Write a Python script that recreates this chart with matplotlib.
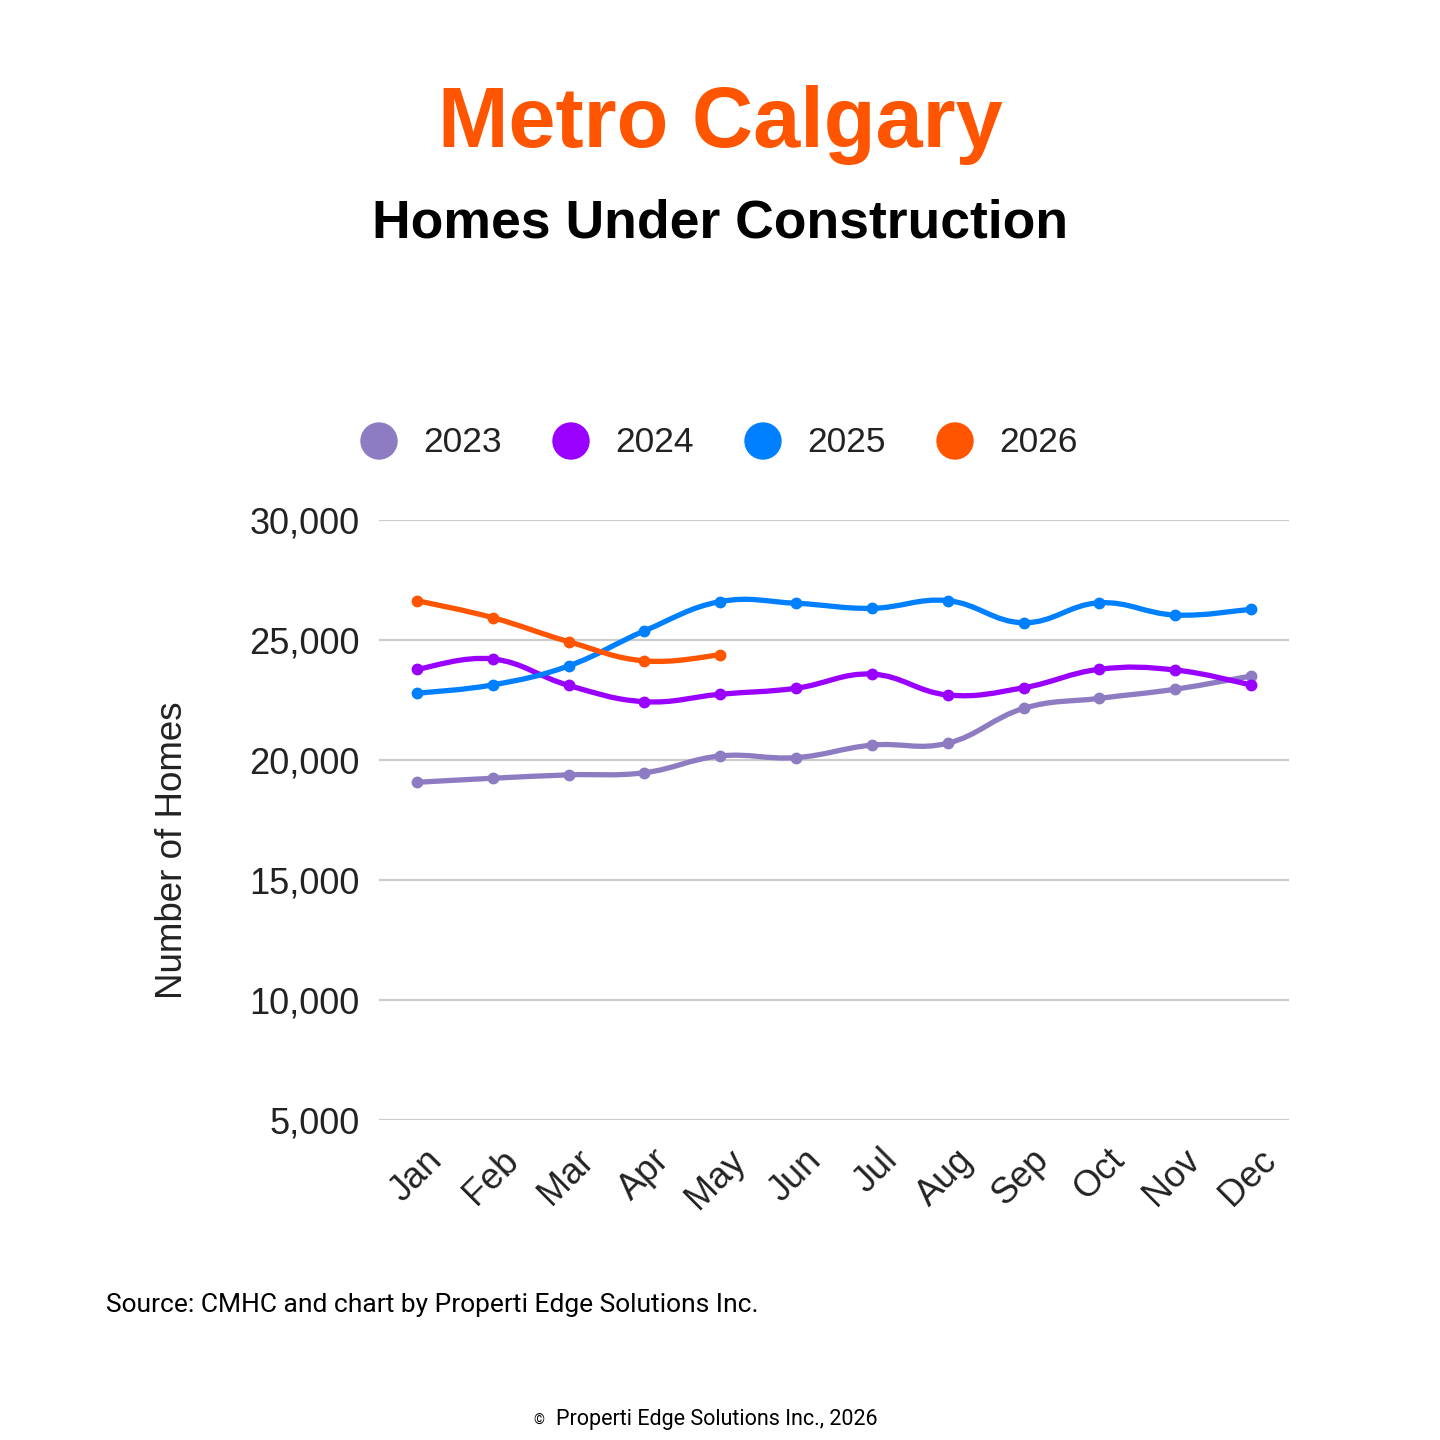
import numpy as np
import matplotlib
matplotlib.use("Agg")
import matplotlib.pyplot as plt
from matplotlib.path import Path
from matplotlib.patches import PathPatch
from matplotlib.ticker import FuncFormatter

# Dados
meses = ["Jan", "Feb", "Mar", "Apr", "May", "Jun",
         "Jul", "Aug", "Sep", "Oct", "Nov", "Dec"]
anos = ["2023", "2024", "2025", "2026"]
v2023 = [19070, 19240, 19380, 19470, 20170, 20100, 20620, 20700, 22150, 22570, 22950, 23500]
v2024 = [23780, 24210, 23110, 22430, 22740, 22990, 23580, 22710, 23010, 23780, 23750, 23130]
v2025 = [22780, 23130, 23920, 25380, 26600, 26530, 26320, 26640, 25720, 26550, 26040, 26280]
v2026 = [26640, 25930, 24930, 24130, 24380]
yticks = [5000, 10000, 15000, 20000, 25000, 30000]

cores = ["#8e7cc3", "#9900ff", "#0080ff", "#ff5500"]
series = [v2023, v2024, v2025, v2026]


# Curva suave (bezier tipo Catmull-Rom) passando pelos pontos
def caminho_suave(xs, ys, k=0.2):
    pts = np.column_stack([xs, ys]).astype(float)
    n = len(pts)
    verts = [pts[0]]
    codes = [Path.MOVETO]
    for i in range(n - 1):
        p0 = pts[max(i - 1, 0)]
        p1 = pts[i]
        p2 = pts[i + 1]
        p3 = pts[min(i + 2, n - 1)]
        c1 = p1 + (p2 - p0) * k
        c2 = p2 - (p3 - p1) * k
        verts += [c1, c2, p2]
        codes += [Path.CURVE4] * 3
    return Path(verts, codes)


fig = plt.figure(figsize=(14.4, 14.4), dpi=100)
ax = fig.add_axes([379 / 1440, 1 - 1120 / 1440, 910 / 1440, 600 / 1440])

for ano, vals, cor in zip(anos, series, cores):
    x = np.arange(len(vals))
    ax.add_patch(PathPatch(caminho_suave(x, vals), facecolor="none", edgecolor=cor,
                           lw=3.8, capstyle="round", joinstyle="round", zorder=3))
    ax.plot(x, vals, "o", color=cor, ms=7.5, zorder=4)

ax.set_xlim(-0.5, 11.5)
ax.set_ylim(5000, 30000)
ax.set_yticks(yticks)
ax.yaxis.set_major_formatter(FuncFormatter(lambda v, p: f"{int(v):,}"))
ax.set_xticks(range(len(meses)))
for s in ax.spines.values():
    s.set_visible(False)
ax.grid(axis="y", color="#cccccc", lw=1.6, zorder=0)
ax.tick_params(axis="both", length=0)
ax.tick_params(axis="y", pad=14, labelsize=26, labelcolor="#222222")
for lbl in ax.get_yticklabels():
    lbl.set_family("Liberation Sans")

ax.set_xticklabels(meses, rotation=45, ha="right", va="center", rotation_mode="anchor",
                   fontsize=26, color="#222222", family="Liberation Sans")
for lbl in ax.get_xticklabels():
    lbl.set_transform(lbl.get_transform() + matplotlib.transforms.ScaledTranslation(0.2, -0.3, fig.dpi_scale_trans))

# Rótulo do eixo y
fig.text(172 / 1440, 1 - 850 / 1440, "Number of Homes", rotation=90, ha="center", va="center",
         fontsize=26.5, color="#222222", family="Liberation Sans")

# Legenda manual
leg_x = [379, 571, 763, 955]
for lx, ano, cor in zip(leg_x, anos, cores):
    fig.patches.append(matplotlib.patches.Circle((lx / 1440, 1 - 441 / 1440), 18 / 1440,
                                                 transform=fig.transFigure, color=cor))
    fig.text((lx + 44) / 1440, 1 - 443 / 1440, ano, ha="left", va="center",
             fontsize=25.5, color="#222222", family="Liberation Sans")

# Títulos
fig.text(0.5, 1 - 125 / 1440, "Metro Calgary", ha="center", va="center", fontsize=61,
         fontweight="bold", color="#ff5500", family="Liberation Sans")
fig.text(0.5, 1 - 224 / 1440, "Homes Under Construction", ha="center", va="center", fontsize=38.5,
         fontweight="bold", color="black", family="Liberation Sans")

fig.text(106 / 1440, 1 - 1305 / 1440, "Source: CMHC and chart by Properti Edge Solutions Inc.",
         ha="left", va="center", fontsize=19, color="black", family="Roboto")
fig.text(539 / 1440, 1 - 1421 / 1440, "©", ha="center", va="center", fontsize=10,
         color="black", family="Roboto")
fig.text(556 / 1440, 1 - 1420 / 1440, "Properti Edge Solutions Inc., 2026",
         ha="left", va="center", fontsize=15.5, color="black", family="Roboto")

fig.savefig("out.png", dpi=100, facecolor="white")
